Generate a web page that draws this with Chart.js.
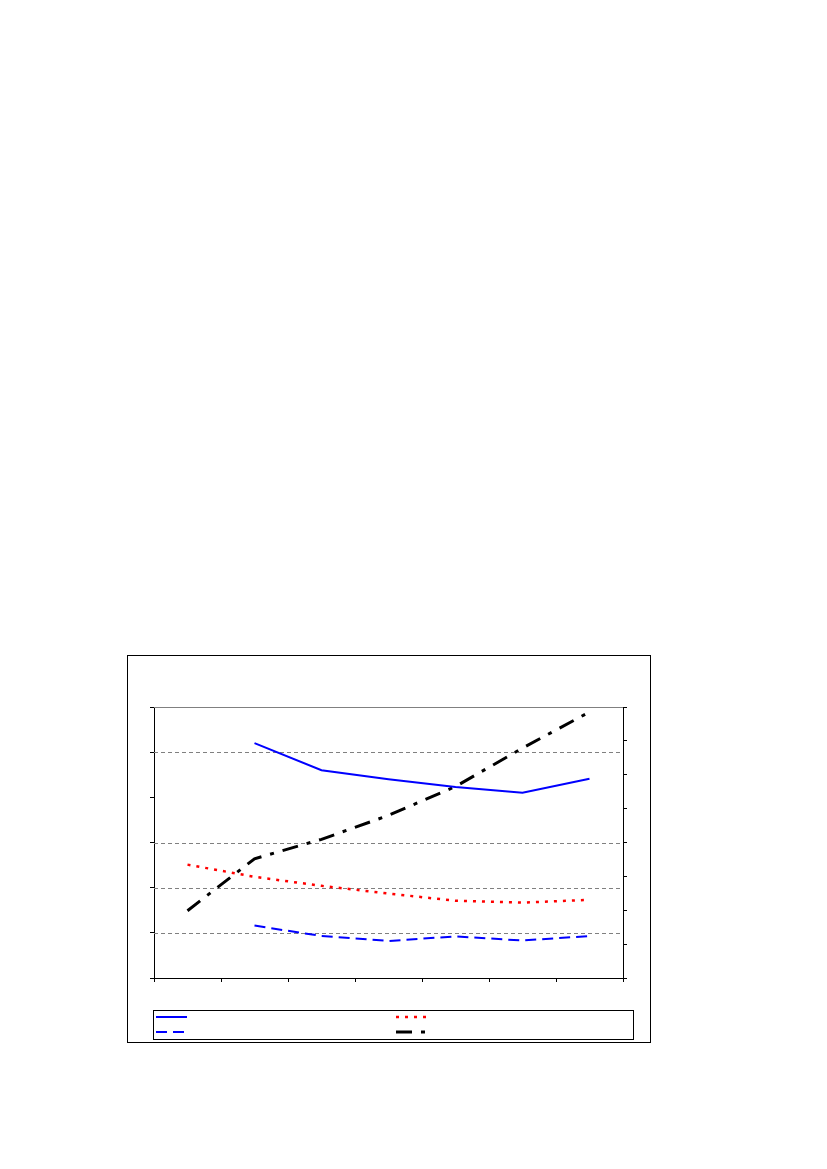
<!DOCTYPE html>
<html>
<head>
<meta charset="utf-8">
<script src="https://cdn.jsdelivr.net/npm/chart.js@4"></script>
<style>
  html, body { margin: 0; padding: 0; background: #fff; }
  #wrap { position: absolute; left: 127px; top: 655px; width: 524px; height: 388px; }
  canvas { display: block; }
</style>
</head>
<body>
<div id="wrap"><canvas id="c" width="524" height="388"></canvas></div>
<script>
// Categories (no visible labels in the reference)
const categories = ['', '', '', '', '', '', ''];

// Series values (left axis units 0..6)
const seriesSolidBlue  = [null, 5.20, 4.60, 4.40, 4.23, 4.10, 4.41];
const seriesDottedRed  = [2.51, 2.24, 2.04, 1.87, 1.71, 1.67, 1.73];
const seriesDashedBlue = [null, 1.16, 0.93, 0.82, 0.92, 0.83, 0.93];
const seriesDashDotBlk = [1.49, 2.64, 3.07, 3.60, 4.24, 5.09, 5.89];

// Axis ranges / ticks
const leftAxisMin = 0, leftAxisMax = 6, leftAxisStep = 1;
const rightAxisMin = 0, rightAxisMax = 8, rightAxisStep = 1;
const gridValues = [1, 2, 3, 5];

const extras = {
  id: 'extras',
  beforeDatasetsDraw(chart) {
    const { ctx, chartArea: a, scales } = chart;
    ctx.save();
    ctx.strokeStyle = '#808080';
    ctx.lineWidth = 1;
    ctx.setLineDash([4, 3]);
    gridValues.forEach(v => {
      const y = Math.round(scales.y.getPixelForValue(v)) + 0.5;
      ctx.beginPath(); ctx.moveTo(a.left, y); ctx.lineTo(a.right, y); ctx.stroke();
    });
    ctx.setLineDash([]);
    // top border of plot area (gray)
    ctx.beginPath();
    ctx.moveTo(a.left, Math.round(a.top) + 0.5);
    ctx.lineTo(a.right, Math.round(a.top) + 0.5);
    ctx.stroke();
    ctx.restore();
  },
  afterDraw(chart) {
    const { ctx, width, height } = chart;
    ctx.save();
    // outer frame
    ctx.strokeStyle = '#000';
    ctx.lineWidth = 1;
    ctx.strokeRect(0.5, 0.5, width - 1, height - 1);
    // legend box
    const lb = { x: 26.5, y: 355.5, w: 480, h: 29 };
    ctx.strokeRect(lb.x, lb.y, lb.w, lb.h);
    const slots = [
      { x: 29, y: 362 },  // dataset 0
      { x: 269, y: 362 }, // dataset 1
      { x: 29, y: 377 },  // dataset 2
      { x: 269, y: 377 }  // dataset 3
    ];
    chart.data.datasets.forEach((ds, i) => {
      const s = slots[i];
      ctx.strokeStyle = ds.borderColor;
      ctx.lineWidth = ds.borderWidth;
      ctx.setLineDash(ds.borderDash || []);
      ctx.beginPath();
      ctx.moveTo(s.x, s.y);
      ctx.lineTo(s.x + 31, s.y);
      ctx.stroke();
    });
    ctx.restore();
  }
};

new Chart(document.getElementById('c'), {
  type: 'line',
  data: {
    labels: categories,
    datasets: [
      { label: '', data: seriesSolidBlue, borderColor: '#0000FF', borderWidth: 2, borderDash: [], yAxisID: 'y' },
      { label: '', data: seriesDottedRed, borderColor: '#FF0000', borderWidth: 2.5, borderDash: [3, 6], yAxisID: 'y' },
      { label: '', data: seriesDashedBlue, borderColor: '#0000FF', borderWidth: 2, borderDash: [11, 6], yAxisID: 'y' },
      { label: '', data: seriesDashDotBlk, borderColor: '#000000', borderWidth: 3, borderDash: [16, 9, 4, 9], yAxisID: 'y' }
    ]
  },
  options: {
    responsive: false,
    animation: false,
    devicePixelRatio: 1,
    layout: { padding: { left: 0, top: 52, right: 0, bottom: 0 } },
    elements: { point: { radius: 0 }, line: { tension: 0, fill: false, borderCapStyle: 'butt' } },
    plugins: { legend: { display: false }, tooltip: { enabled: false }, title: { display: false } },
    scales: {
      x: {
        type: 'category',
        offset: true,
        ticks: { display: false },
        grid: { offset: true, drawOnChartArea: false, drawTicks: true, tickLength: 4, tickColor: '#000', color: '#000' },
        border: { display: true, color: '#000', width: 1 },
        afterFit(s) { s.height = 65; }
      },
      y: {
        position: 'left',
        min: leftAxisMin, max: leftAxisMax,
        ticks: { display: false, stepSize: leftAxisStep },
        grid: { drawOnChartArea: false, drawTicks: true, tickLength: 4, tickColor: '#000' },
        border: { display: true, color: '#000', width: 1 },
        afterFit(s) { s.width = 27; }
      },
      y2: {
        position: 'right',
        min: rightAxisMin, max: rightAxisMax,
        ticks: { display: false, stepSize: rightAxisStep },
        grid: { drawOnChartArea: false, drawTicks: true, tickLength: 4, tickColor: '#000' },
        border: { display: true, color: '#000', width: 1 },
        afterFit(s) { s.width = 28; }
      }
    }
  },
  plugins: [extras]
});
</script>
</body>
</html>
